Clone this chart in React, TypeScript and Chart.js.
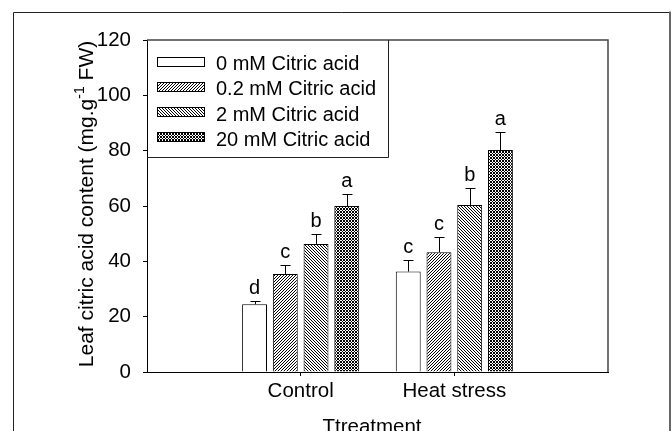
import React, { useEffect, useRef } from 'react';
import { Chart, registerables } from 'chart.js';

Chart.register(...registerables);

// ---- data ----
const groups = ['Control', 'Heat stress'];
const seriesLabels = ['0 mM Citric acid', '0.2 mM Citric acid', '2 mM Citric acid', '20 mM Citric acid'];
const means0 = [24.5, 36.3];
const means02 = [35.4, 43.3];
const means2 = [46.3, 60.4];
const means20 = [60.0, 80.2];
const err0 = [1.3, 4.3];
const err02 = [3.3, 5.6];
const err2 = [3.6, 6.2];
const err20 = [4.2, 6.4];
const letters0 = ['d', 'c'];
const letters02 = ['c', 'c'];
const letters2 = ['b', 'b'];
const letters20 = ['a', 'a'];
const yMin = 0;
const yMax = 120;
const yStep = 20;
const xTitle = 'Ttreatment';
const yTitleMain = 'Leaf citric acid content (mg.g';
const yTitleSup = '-1';
const yTitleEnd = ' FW)';

const FONT = '"Liberation Sans", Arial, Helvetica, sans-serif';

type PatternKind = 'none' | 'fwd' | 'back' | 'cross';

function makePattern(kind: PatternKind): CanvasPattern | string {
  if (kind === 'none') return '#ffffff';
  const n = 3;
  const c = document.createElement('canvas');
  c.width = n;
  c.height = n;
  const g = c.getContext('2d')!;
  const img = g.createImageData(n, n);
  for (let y = 0; y < n; y++) {
    for (let x = 0; x < n; x++) {
      let v = 255;
      if (kind === 'fwd') v = (x + y) % n === 0 ? 0 : 255;
      else if (kind === 'back') v = (x - y + n) % n === 0 ? 0 : 255;
      else {
        const a = (x + y) % n === 0;
        const b = (x - y + n) % n === 0;
        v = a || b ? 0 : 255;
      }
      const i = (y * n + x) * 4;
      img.data[i] = v;
      img.data[i + 1] = v;
      img.data[i + 2] = v;
      img.data[i + 3] = 255;
    }
  }
  g.putImageData(img, 0, 0);
  return g.createPattern(c, 'repeat')!;
}

export default function App() {
  const ref = useRef<HTMLCanvasElement>(null);

  useEffect(() => {
    document.body.style.margin = '0';
    const canvas = ref.current!;
    const kinds: PatternKind[] = ['none', 'fwd', 'back', 'cross'];
    const fills = kinds.map(makePattern);
    const meansAll = [means0, means02, means2, means20];
    const errsAll = [err0, err02, err2, err20];
    const lettersAll = [letters0, letters02, letters2, letters20];
    const labels = ['', ...groups, ''];

    const decor = {
      id: 'decor',
      beforeDraw(chart: any) {
        const { ctx, width, height } = chart;
        ctx.save();
        ctx.fillStyle = '#fff';
        ctx.fillRect(0, 0, width, height);
        // outer frame
        ctx.strokeStyle = '#222';
        ctx.lineWidth = 1;
        ctx.beginPath();
        ctx.moveTo(13.5, height);
        ctx.lineTo(13.5, 12.5);
        ctx.lineTo(670, 12.5);
        ctx.stroke();
        ctx.strokeStyle = '#666';
        ctx.lineWidth = 2;
        ctx.beginPath();
        ctx.moveTo(670, 11.5);
        ctx.lineTo(670, height);
        ctx.stroke();
        ctx.restore();
      },
      afterDatasetsDraw(chart: any) {
        const { ctx, scales } = chart;
        const y = scales.y;
        ctx.save();
        ctx.strokeStyle = '#000';
        ctx.fillStyle = '#000';
        ctx.lineWidth = 1;
        ctx.font = `20px ${FONT}`;
        ctx.textAlign = 'center';
        ctx.textBaseline = 'alphabetic';
        chart.data.datasets.forEach((_ds: any, di: number) => {
          const meta = chart.getDatasetMeta(di);
          groups.forEach((_g, gi) => {
            const el = meta.data[gi + 1];
            if (!el) return;
            const m = meansAll[di][gi];
            const e = errsAll[di][gi];
            const cx = Math.round(el.x) + 0.5;
            const top = y.getPixelForValue(m);
            const capY = Math.round(y.getPixelForValue(m + e)) + 0.5;
            ctx.beginPath();
            ctx.moveTo(cx, top);
            ctx.lineTo(cx, capY);
            ctx.moveTo(cx - 5, capY);
            ctx.lineTo(cx + 5, capY);
            ctx.stroke();
            ctx.fillText(lettersAll[di][gi], el.x, capY - 8);
          });
        });
        ctx.restore();
      },
      afterDraw(chart: any) {
        const { ctx, chartArea: ca } = chart;
        ctx.save();
        // top & right plot border
        ctx.strokeStyle = '#444';
        ctx.lineWidth = 1.5;
        ctx.beginPath();
        ctx.moveTo(ca.left, ca.top);
        ctx.lineTo(ca.right, ca.top);
        ctx.lineTo(ca.right, ca.bottom);
        ctx.stroke();

        // legend
        ctx.font = `20px ${FONT}`;
        const textX = ca.left + 69;
        let maxW = 0;
        chart.data.datasets.forEach((ds: any) => {
          maxW = Math.max(maxW, ctx.measureText(ds.label).width);
        });
        const rowGap = 25.3;
        const firstRow = ca.top + 21;
        const nRows = chart.data.datasets.length;
        const boxRight = Math.round(textX + maxW + 12) + 0.5;
        const boxBottom = Math.round(firstRow + rowGap * (nRows - 1) + 20) + 0.5;
        ctx.strokeStyle = '#222';
        ctx.lineWidth = 1;
        ctx.beginPath();
        ctx.moveTo(boxRight, ca.top);
        ctx.lineTo(boxRight, boxBottom);
        ctx.lineTo(ca.left, boxBottom);
        ctx.stroke();
        ctx.textAlign = 'left';
        ctx.textBaseline = 'alphabetic';
        chart.data.datasets.forEach((ds: any, i: number) => {
          const cy = firstRow + rowGap * i;
          const mx = Math.round(ca.left + 10) + 0.5;
          const my = Math.round(cy - 4.5) + 0.5;
          ctx.fillStyle = ds.backgroundColor;
          ctx.fillRect(mx, my, 47, 9);
          ctx.strokeStyle = '#000';
          ctx.strokeRect(mx, my, 47, 9);
          ctx.fillStyle = '#000';
          ctx.fillText(ds.label, textX, cy + 9);
        });

        // y title with superscript
        ctx.save();
        ctx.translate(93, 204);
        ctx.rotate(-Math.PI / 2);
        ctx.font = `21px ${FONT}`;
        const w1 = ctx.measureText(yTitleMain).width;
        const w3 = ctx.measureText(yTitleEnd).width;
        ctx.font = `14px ${FONT}`;
        const w2 = ctx.measureText(yTitleSup).width;
        const total = w1 + w2 + w3;
        let sx = -total / 2;
        ctx.textAlign = 'left';
        ctx.textBaseline = 'alphabetic';
        ctx.fillStyle = '#000';
        ctx.font = `21px ${FONT}`;
        ctx.fillText(yTitleMain, sx, 0);
        sx += w1;
        ctx.font = `14px ${FONT}`;
        ctx.fillText(yTitleSup, sx, -9);
        sx += w2;
        ctx.font = `21px ${FONT}`;
        ctx.fillText(yTitleEnd, sx, 0);
        ctx.restore();

        // x title
        ctx.font = `20.5px ${FONT}`;
        ctx.textAlign = 'center';
        ctx.textBaseline = 'alphabetic';
        ctx.fillStyle = '#000';
        ctx.fillText(xTitle, 372, 433);
        ctx.restore();
      },
    };

    const chart = new Chart(canvas, {
      type: 'bar',
      data: {
        labels,
        datasets: seriesLabels.map((lab, i) => ({
          label: lab,
          data: [null, ...meansAll[i], null],
          backgroundColor: fills[i] as any,
          borderColor: '#000',
          borderWidth: 1,
          categoryPercentage: 0.8,
          barPercentage: 0.81,
        })),
      },
      options: {
        responsive: false,
        animation: false,
        layout: { padding: { top: 40, right: 64, left: 0, bottom: 0 } },
        plugins: {
          legend: { display: false },
          tooltip: { enabled: false },
          title: { display: false },
        },
        scales: {
          x: {
            type: 'category',
            offset: false,
            grid: {
              offset: false,
              drawOnChartArea: false,
              drawTicks: true,
              tickLength: 4,
              color: (c: any) => (c.index === 1 || c.index === 2 ? '#000' : 'rgba(0,0,0,0)'),
            },
            border: { display: true, color: '#000', width: 1 },
            ticks: {
              color: '#000',
              font: { family: FONT, size: 20.5 },
              padding: 3,
              maxRotation: 0,
              autoSkip: false,
            },
            afterFit(scale: any) {
              scale.height = 59;
              scale.paddingLeft = 0;
              scale.paddingRight = 0;
            },
          },
          y: {
            min: yMin,
            max: yMax,
            grid: {
              drawOnChartArea: false,
              drawTicks: true,
              tickLength: 4,
              color: '#000',
            },
            border: { display: true, color: '#000', width: 1 },
            ticks: {
              stepSize: yStep,
              color: '#000',
              font: { family: FONT, size: 20.5 },
              padding: 12,
            },
            afterFit(scale: any) {
              scale.width = 147;
              scale.paddingTop = 0;
              scale.paddingBottom = 0;
            },
          },
        },
      },
      plugins: [decor],
    });

    return () => chart.destroy();
  }, []);

  return (
    <div style={{ width: 672, height: 431 }}>
      <canvas ref={ref} width={672} height={431} style={{ display: 'block' }} />
    </div>
  );
}
